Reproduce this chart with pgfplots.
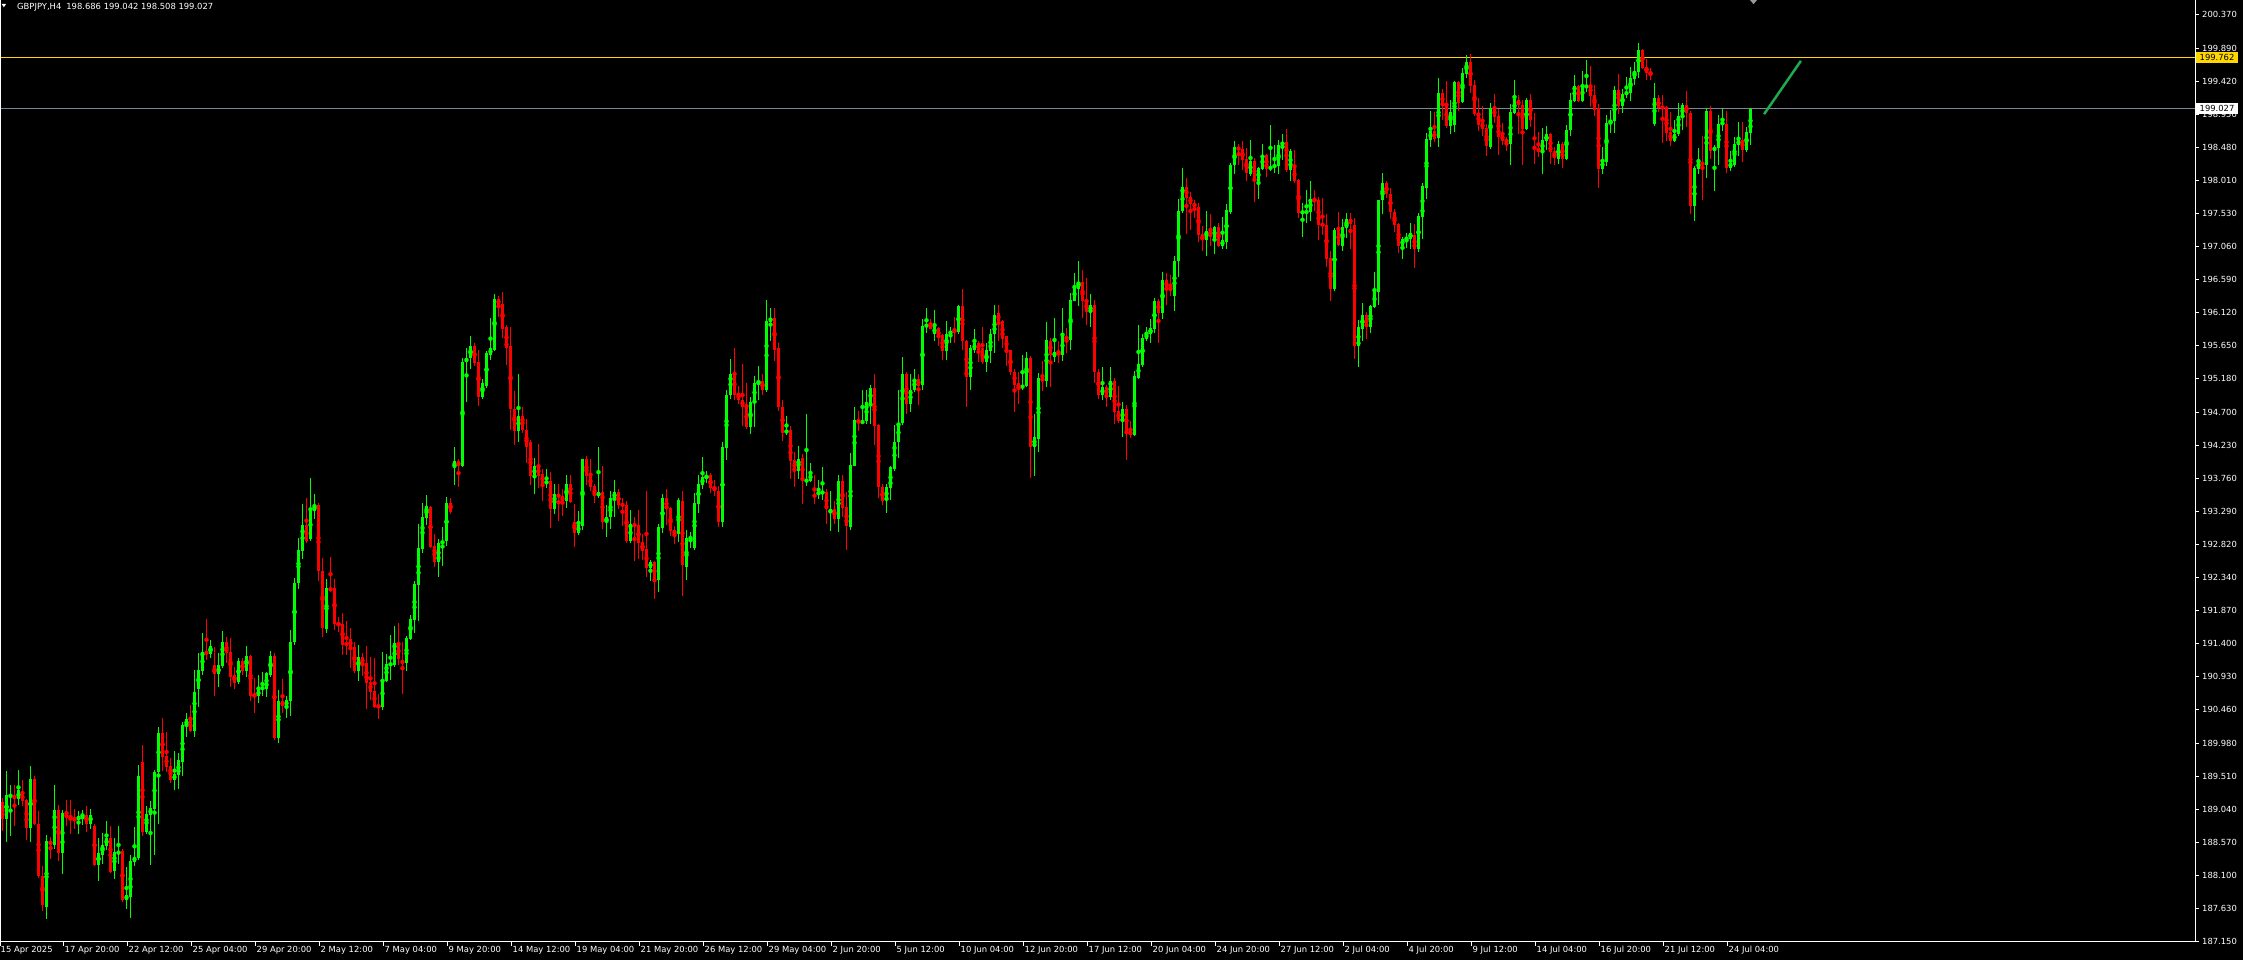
\documentclass[border=0pt]{standalone}
\usepackage{pgfplots}
\usepackage{pgfplotstable}
\pgfplotsset{compat=1.18}
\usepackage{fontspec}
\setmainfont{DejaVu Sans}
\definecolor{mtgreen}{RGB}{0,255,0}
\definecolor{mtred}{RGB}{255,0,0}
\definecolor{mtgold}{RGB}{255,215,0}
\definecolor{mtbid}{RGB}{119,136,153}
\definecolor{trendgreen}{RGB}{30,170,80}

\pgfplotstableread{
o h l c
189.14 189.20 188.73 188.90
188.90 189.58 188.57 189.24
189.22 189.38 188.66 189.24
189.24 189.38 188.80 189.18
189.18 189.60 189.10 189.31
189.27 189.45 189.09 189.15
189.17 189.18 188.60 188.77
188.77 189.65 188.57 189.47
189.47 189.51 188.82 188.83
188.83 189.01 188.06 188.08
188.09 188.23 187.59 187.68
187.65 188.67 187.48 188.59
188.59 188.64 188.33 188.53
188.53 189.38 188.47 189.03
189.03 189.10 188.30 188.42
188.42 189.03 188.11 188.98
188.98 189.17 188.80 188.91
188.91 189.17 188.69 188.90
188.91 189.04 188.75 188.88
188.88 189.01 188.69 188.94
188.94 189.03 188.82 188.96
188.96 189.08 188.72 188.83
188.83 189.04 188.76 188.96
188.80 188.83 188.23 188.25
188.25 188.63 188.02 188.42
188.39 188.70 188.26 188.53
188.52 188.87 188.46 188.63
188.63 188.80 188.13 188.14
188.16 188.63 188.05 188.43
188.40 188.80 188.26 188.44
188.44 188.47 187.72 187.75
187.75 188.22 187.61 187.81
187.79 188.38 187.49 188.30
188.29 188.79 188.23 188.36
188.35 189.67 188.32 189.51
189.71 189.96 188.66 188.72
188.72 189.08 188.69 188.97
188.96 189.15 188.25 189.05
189.04 189.60 188.38 189.57
189.57 190.21 188.83 190.13
190.13 190.34 189.59 189.79
189.80 190.14 189.57 189.64
189.65 189.77 189.41 189.45
189.45 189.87 189.31 189.54
189.53 189.84 189.33 189.74
189.71 190.28 189.51 190.24
190.23 190.41 190.07 190.32
190.31 190.52 190.14 190.15
190.15 191.02 190.07 190.71
190.75 191.26 190.49 191.02
191.01 191.55 190.95 191.28
191.29 191.75 191.16 191.25
191.25 191.45 191.19 191.36
191.09 191.35 190.66 190.96
190.96 191.26 190.78 191.09
191.08 191.58 191.05 191.42
191.42 191.49 191.12 191.26
191.28 191.48 190.78 190.93
190.95 191.06 190.76 190.84
190.85 191.19 190.82 191.15
191.15 191.19 190.95 191.01
191.01 191.36 190.93 191.23
191.23 191.24 190.58 190.66
190.68 190.91 190.41 190.65
190.65 190.96 190.56 190.74
190.75 190.99 190.66 190.78
190.76 190.99 190.64 190.98
190.95 191.29 190.92 191.22
191.22 191.26 190.02 190.05
190.05 190.74 189.98 190.58
190.58 190.89 190.41 190.51
190.51 190.66 190.34 190.59
190.58 191.60 190.37 191.43
191.42 192.34 191.38 192.27
192.27 192.90 192.18 192.73
192.72 193.39 192.61 193.09
193.09 193.47 192.84 192.86
192.89 193.76 192.87 193.30
193.29 193.54 193.18 193.37
193.37 193.41 192.29 192.44
192.44 192.62 191.50 191.62
191.61 192.32 191.55 192.19
192.19 192.64 192.14 192.16
192.20 192.32 191.59 191.68
191.69 191.78 191.57 191.67
191.68 191.84 191.24 191.38
191.41 191.72 191.24 191.38
191.47 191.62 191.05 191.34
191.35 191.42 190.98 191.01
191.01 191.38 190.87 191.21
191.21 191.27 190.94 191.11
191.13 191.37 190.47 190.84
190.85 191.21 190.60 190.71
190.73 191.19 190.48 190.50
190.51 190.68 190.33 190.50
190.50 191.28 190.46 190.88
190.87 191.25 190.85 191.11
191.10 191.52 190.88 191.11
191.10 191.65 191.07 191.41
191.41 191.69 191.10 191.18
191.15 191.42 190.68 191.13
191.13 191.51 191.01 191.48
191.47 191.81 191.45 191.75
191.74 192.29 191.55 192.25
192.24 193.10 191.72 192.76
192.75 193.41 192.69 193.21
193.19 193.52 193.09 193.36
193.35 193.36 192.76 192.78
192.79 192.96 192.49 192.56
192.56 192.89 192.35 192.83
192.82 193.06 192.51 192.87
192.87 193.49 192.79 193.40
193.40 193.47 193.25 193.28
193.92 194.21 193.66 194.00
194.00 194.03 193.63 193.93
193.93 195.48 193.92 195.42
195.41 195.61 194.84 195.48
195.48 195.79 195.31 195.65
195.65 195.68 195.36 195.40
195.42 195.58 194.79 194.91
194.91 195.18 194.89 195.11
195.07 195.57 195.05 195.54
195.52 196.05 195.45 195.61
195.59 196.38 195.57 196.32
196.32 196.36 196.06 196.23
196.25 196.41 195.76 195.89
195.91 195.95 195.38 195.62
195.64 195.92 194.44 194.75
194.75 195.00 194.23 194.43
194.43 195.25 194.27 194.65
194.65 194.78 194.40 194.44
194.45 194.61 193.97 194.20
194.27 194.30 193.66 193.79
193.78 194.04 193.53 193.93
193.93 194.24 193.62 193.79
193.82 193.89 193.43 193.68
193.68 193.89 193.62 193.72
193.72 193.85 193.05 193.32
193.32 193.68 193.25 193.53
193.53 193.68 193.15 193.49
193.50 193.60 193.22 193.43
193.43 193.81 193.33 193.67
193.67 193.81 193.40 193.42
193.13 193.39 192.78 192.98
192.98 193.29 192.95 193.09
193.08 194.04 193.02 194.03
194.03 194.08 193.66 193.79
193.80 194.04 193.58 193.63
193.65 193.68 193.40 193.50
193.50 194.21 193.48 193.56
193.56 193.94 193.03 193.13
193.13 193.38 192.92 193.21
193.21 193.58 193.03 193.48
193.47 193.73 193.20 193.56
193.56 193.61 193.32 193.37
193.39 193.48 193.08 193.37
193.37 193.44 192.83 192.86
192.86 193.31 192.84 193.10
193.10 193.20 192.58 193.08
193.09 193.31 192.61 192.83
192.85 192.96 192.59 192.72
192.75 193.58 192.35 192.48
192.48 192.59 192.29 192.56
192.56 192.58 192.03 192.31
192.31 193.10 192.14 193.06
193.05 193.53 192.98 193.47
193.47 193.60 193.09 193.32
193.33 193.35 192.93 193.00
193.02 193.08 192.82 192.96
192.96 193.48 192.85 193.45
193.43 193.57 192.08 192.52
192.50 193.02 192.31 192.90
192.89 192.99 192.76 192.92
192.76 193.55 192.73 193.40
193.39 193.81 193.27 193.67
193.66 194.06 193.60 193.77
193.76 193.86 193.69 193.80
193.80 193.84 193.55 193.62
193.64 193.74 193.50 193.57
193.57 193.65 193.06 193.13
193.13 194.27 193.06 194.20
194.19 195.01 194.02 194.95
194.94 195.46 194.89 195.25
195.25 195.62 194.87 194.95
194.97 195.08 194.82 194.87
194.88 195.39 194.50 194.77
194.78 195.11 194.46 194.49
194.49 194.91 194.39 194.85
194.84 195.21 194.49 195.12
195.12 195.36 194.87 195.14
195.14 195.24 194.94 195.02
195.02 196.30 194.99 196.00
195.99 196.18 195.72 196.05
196.05 196.18 195.43 195.59
195.61 195.68 194.72 194.77
194.77 194.87 194.29 194.41
194.41 194.65 194.37 194.44
194.44 194.50 193.75 194.00
194.02 194.13 193.63 193.86
193.86 194.22 193.75 194.04
194.04 194.11 193.39 193.72
193.72 194.67 193.65 193.73
193.72 193.97 193.70 193.83
193.53 193.81 193.39 193.49
193.53 193.73 193.46 193.56
193.55 193.92 193.45 193.56
193.56 193.60 193.10 193.32
193.26 193.57 193.00 193.32
193.32 193.43 193.10 193.18
193.18 193.81 192.99 193.72
193.72 193.81 193.20 193.33
193.35 193.56 192.73 193.08
193.06 194.12 193.02 193.95
193.94 194.78 193.93 194.59
194.59 194.72 194.43 194.54
194.54 195.02 194.53 194.58
194.57 195.02 194.53 194.84
194.82 195.09 194.53 195.05
195.05 195.24 194.23 194.51
194.52 194.53 193.47 193.63
193.63 193.67 193.37 193.43
193.45 193.67 193.26 193.63
193.62 193.93 193.45 193.92
193.89 194.52 193.86 194.28
194.27 195.01 194.04 194.55
194.54 195.49 194.52 195.25
195.25 195.27 194.68 194.81
194.81 195.25 194.71 195.02
195.01 195.31 194.99 195.18
195.17 195.25 194.80 195.08
195.09 196.03 195.02 195.93
195.92 196.19 195.83 195.95
195.96 196.03 195.88 195.89
195.82 196.16 195.72 195.91
195.90 195.92 195.65 195.76
195.80 195.82 195.45 195.57
195.57 196.00 195.44 195.82
195.81 195.91 195.68 195.86
195.86 196.06 195.68 195.85
195.85 196.23 195.82 196.21
196.21 196.45 195.58 195.71
195.71 195.73 194.77 195.20
195.20 195.66 195.01 195.61
195.59 195.88 195.55 195.68
195.68 195.71 195.41 195.59
195.62 195.92 195.39 195.41
195.41 195.68 195.28 195.58
195.57 195.88 195.40 195.82
195.81 196.23 195.54 196.09
196.11 196.23 195.71 196.00
196.00 196.02 195.61 195.75
195.78 195.79 195.36 195.57
195.58 195.59 195.23 195.27
195.28 195.31 194.71 195.09
195.11 195.28 194.81 195.04
195.04 195.52 195.02 195.09
195.08 195.56 195.06 195.48
195.48 195.50 193.76 194.21
194.21 194.68 193.79 194.35
194.32 195.26 194.13 195.19
195.19 195.43 195.00 195.14
195.14 195.98 195.06 195.73
195.72 195.76 195.06 195.52
195.49 196.05 195.41 195.56
195.56 195.71 195.40 195.51
195.51 196.18 195.43 195.79
195.79 195.90 195.54 195.73
195.73 196.40 195.58 196.30
196.29 196.69 196.28 196.48
196.46 196.85 196.22 196.56
196.56 196.73 196.05 196.28
196.29 196.62 195.95 196.13
196.13 196.38 195.91 196.23
196.23 196.30 195.12 195.28
195.28 195.31 194.89 194.94
194.94 195.35 194.88 195.06
195.06 195.09 194.77 194.92
194.92 195.34 194.87 195.14
195.14 195.19 194.53 194.71
194.72 195.08 194.54 194.58
194.58 194.84 194.34 194.74
194.75 194.81 194.02 194.41
194.43 194.57 194.33 194.37
194.37 195.29 194.36 195.21
195.19 195.95 195.17 195.39
195.38 195.81 195.35 195.76
195.75 195.92 195.72 195.82
195.81 196.03 195.68 195.90
195.89 196.33 195.83 196.28
196.29 196.31 195.69 196.11
196.11 196.70 196.03 196.58
196.58 196.69 196.23 196.48
196.50 196.65 196.36 196.43
196.36 196.93 196.15 196.86
196.85 197.74 196.63 197.57
197.57 198.18 197.54 197.91
197.91 198.04 197.24 197.76
197.77 197.84 197.30 197.67
197.69 197.72 197.47 197.62
197.63 197.69 197.13 197.23
197.24 197.36 197.00 197.15
197.16 197.57 196.93 197.29
197.29 197.53 197.07 197.20
197.17 197.36 196.96 197.34
197.34 197.40 197.05 197.07
197.07 197.49 197.03 197.15
197.12 197.67 197.03 197.59
197.56 198.26 197.53 198.23
198.23 198.57 198.10 198.48
198.48 198.53 198.23 198.44
198.46 198.57 198.16 198.30
198.31 198.47 198.00 198.11
198.10 198.58 198.07 198.28
198.28 198.33 197.70 197.99
197.99 198.20 197.74 198.18
198.17 198.53 198.16 198.37
198.37 198.38 198.05 198.17
198.17 198.80 198.14 198.20
198.19 198.51 198.11 198.23
198.21 198.58 198.09 198.51
198.50 198.67 198.30 198.56
198.56 198.74 198.13 198.16
198.16 198.46 198.00 198.43
198.18 198.44 197.97 198.00
198.01 198.02 197.47 197.54
197.54 197.69 197.20 197.56
197.55 197.87 197.40 197.56
197.56 198.00 197.43 197.74
197.74 197.87 197.57 197.72
197.73 197.77 197.16 197.37
197.39 197.76 197.22 197.36
197.37 197.52 196.77 196.89
196.90 197.00 196.28 196.45
196.45 197.33 196.43 197.30
197.30 197.56 197.07 197.09
197.07 197.46 197.00 197.34
197.33 197.54 197.19 197.46
197.46 197.54 197.03 197.39
197.37 197.47 195.46 195.64
195.64 196.02 195.35 195.91
195.89 196.26 195.72 196.09
196.08 196.13 195.75 195.92
195.92 196.23 195.83 196.22
196.20 196.70 196.18 196.43
196.42 197.73 196.23 197.72
197.72 198.11 197.52 197.97
197.97 197.99 197.76 197.81
197.81 197.90 197.46 197.56
197.56 197.60 197.27 197.37
197.39 197.40 196.97 197.07
197.07 197.20 196.89 197.17
197.16 197.26 197.04 197.19
197.17 197.40 197.03 197.26
197.23 197.39 196.76 197.03
197.03 197.54 196.99 197.50
197.49 197.97 197.17 197.93
197.90 198.68 197.74 198.60
198.58 199.00 198.48 198.71
198.71 198.98 198.55 198.60
198.61 199.47 198.48 199.25
199.25 199.31 198.87 199.08
199.10 199.42 198.75 198.78
198.78 199.15 198.67 198.98
198.80 199.42 198.70 199.41
199.41 199.42 199.00 199.11
199.12 199.61 199.11 199.54
199.52 199.79 199.47 199.69
199.69 199.81 199.25 199.35
199.37 199.44 198.93 198.95
198.97 199.18 198.71 198.80
198.83 199.07 198.64 198.74
198.75 198.81 198.36 198.50
198.48 199.11 198.46 199.04
199.04 199.24 198.83 198.91
198.93 199.03 198.37 198.63
198.66 198.83 198.51 198.57
198.60 198.63 198.43 198.54
198.53 199.10 198.23 198.98
198.97 199.44 198.95 199.17
199.15 199.23 198.67 199.08
199.08 199.15 198.23 198.74
198.74 199.18 198.72 199.15
199.15 199.24 198.77 198.87
198.48 198.97 198.24 198.46
198.47 198.70 198.34 198.41
198.41 198.75 198.09 198.58
198.57 198.78 198.44 198.66
198.66 198.68 198.24 198.41
198.43 198.48 198.23 198.33
198.31 198.57 198.24 198.53
198.53 198.55 198.18 198.31
198.31 198.80 198.29 198.73
198.73 199.25 198.64 199.15
199.14 199.51 199.12 199.35
199.35 199.37 199.12 199.14
199.14 199.57 199.13 199.37
199.34 199.72 199.27 199.35
199.37 199.64 199.05 199.21
199.23 199.37 198.93 199.01
199.04 199.10 197.90 198.17
198.17 198.48 198.09 198.29
198.27 198.94 198.21 198.83
198.81 199.01 198.68 198.85
198.85 199.35 198.68 199.30
199.30 199.52 198.95 199.07
199.07 199.31 198.97 199.24
199.23 199.48 199.18 199.27
199.25 199.62 199.14 199.47
199.45 199.70 199.37 199.57
199.55 199.97 199.47 199.87
199.87 199.88 199.60 199.61
199.62 199.74 199.44 199.54
199.55 199.61 199.44 199.52
198.81 199.40 198.78 199.18
199.18 199.23 198.98 199.04
199.05 199.23 198.54 199.04
199.05 199.07 198.57 198.68
198.70 198.98 198.50 198.57
198.57 198.86 198.56 198.67
198.66 199.11 198.64 198.93
198.91 199.11 198.73 199.08
199.08 199.28 198.77 198.97
198.97 199.00 197.52 197.64
197.64 198.21 197.42 198.18
198.17 198.47 198.09 198.27
198.26 198.64 197.73 198.23
198.23 199.04 198.04 199.00
199.00 199.07 198.31 198.43
198.43 198.51 197.86 198.48
198.47 198.94 198.23 198.81
198.80 199.03 198.71 198.84
198.81 199.00 198.11 198.18
198.18 198.43 198.14 198.26
198.23 198.63 198.20 198.53
198.51 198.84 198.36 198.58
198.58 198.84 198.27 198.44
198.44 198.76 198.41 198.70
198.686 199.042 198.508 199.027
}\bars

\begin{document}
\begin{tikzpicture}
\fill[black] (0pt,-18.3pt) rectangle (2243pt,941.7pt);
\begin{axis}[
  at={(0pt,0pt)}, anchor=south west,
  scale only axis, width=2195pt, height=941.7pt,
  xmin=-0.625, xmax=548.125, ymin=187.15, ymax=200.578,
  axis line style={draw=none},
  tick align=outside, major tick length=4pt,
  xtick pos=left, ytick pos=right, yticklabel pos=right,
  tick style={white, line width=1pt},
  ticklabel style={font=\fontsize{8.4}{10}\selectfont, text=white},
  xticklabel style={anchor=north west, inner sep=0pt, xshift=0.5pt},
  yticklabel style={anchor=west, inner sep=0pt, xshift=3pt},
  xtick={-0.625,15.375,31.375,47.375,63.375,79.375,95.375,111.375,127.375,143.375,159.375,175.375,191.375,207.375,223.375,239.375,255.375,271.375,287.375,303.375,319.375,335.375,351.375,367.375,383.375,399.375,415.375,431.375},
  xticklabels={15 Apr 2025,17 Apr 20:00,22 Apr 12:00,25 Apr 04:00,29 Apr 20:00,2 May 12:00,7 May 04:00,9 May 20:00,14 May 12:00,19 May 04:00,21 May 20:00,26 May 12:00,29 May 04:00,2 Jun 20:00,5 Jun 12:00,10 Jun 04:00,12 Jun 20:00,17 Jun 12:00,20 Jun 04:00,24 Jun 20:00,27 Jun 12:00,2 Jul 04:00,4 Jul 20:00,9 Jul 12:00,14 Jul 04:00,16 Jul 20:00,21 Jul 12:00,24 Jul 04:00},
  ytick={187.15,187.63,188.10,188.57,189.04,189.51,189.98,190.46,190.93,191.40,191.87,192.34,192.82,193.29,193.76,194.23,194.70,195.18,195.65,196.12,196.59,197.06,197.53,198.01,198.48,198.95,199.42,199.89,200.37},
  yticklabels={187.150,187.630,188.100,188.570,189.040,189.510,189.980,190.460,190.930,191.400,191.870,192.340,192.820,193.290,193.760,194.230,194.700,195.180,195.650,196.120,196.590,197.060,197.530,198.010,198.480,198.950,199.420,199.890,200.370},
]
\addplot[mtgold, line width=1pt] coordinates {(-0.625,199.762) (548.125,199.762)};
\addplot[mtbid, line width=1pt] coordinates {(-0.625,199.027) (548.125,199.027)};
% up candles: wicks and bodies
\addplot[only marks, mark=none, color=mtgreen,
  restrict expr to domain={\thisrow{c}-\thisrow{o}}{0:100},
  error bars/.cd, y dir=both, y explicit, error mark=none,
  error bar style={mtgreen, line width=1pt, line cap=butt}]
  table[x expr=\coordindex, y expr={0.5*(\thisrow{h}+\thisrow{l})}, y error expr={0.5*(\thisrow{h}-\thisrow{l})}] {\bars};
\addplot[only marks, mark=none, color=mtgreen,
  restrict expr to domain={\thisrow{c}-\thisrow{o}}{0:100},
  error bars/.cd, y dir=both, y explicit, error mark=none,
  error bar style={mtgreen, line width=3pt, line cap=butt}]
  table[x expr=\coordindex, y expr={0.5*(\thisrow{o}+\thisrow{c})}, y error expr={0.5*(\thisrow{c}-\thisrow{o})}] {\bars};
% down candles
\addplot[only marks, mark=none, color=mtred,
  restrict expr to domain={\thisrow{c}-\thisrow{o}}{-100:-0.0001},
  error bars/.cd, y dir=both, y explicit, error mark=none,
  error bar style={mtred, line width=1pt, line cap=butt}]
  table[x expr=\coordindex, y expr={0.5*(\thisrow{h}+\thisrow{l})}, y error expr={0.5*(\thisrow{h}-\thisrow{l})}] {\bars};
\addplot[only marks, mark=none, color=mtred,
  restrict expr to domain={\thisrow{c}-\thisrow{o}}{-100:-0.0001},
  error bars/.cd, y dir=both, y explicit, error mark=none,
  error bar style={mtred, line width=3pt, line cap=butt}]
  table[x expr=\coordindex, y expr={0.5*(\thisrow{o}+\thisrow{c})}, y error expr={0.5*(\thisrow{o}-\thisrow{c})}] {\bars};
% trend line object
\addplot[trendgreen, line width=2.5pt] coordinates {(440.4,198.95) (449.6,199.71)};
\coordinate (ygold) at (axis cs:548.125,199.762);
\coordinate (ybid) at (axis cs:548.125,199.027);
\end{axis}
% frame lines
\draw[white, line width=1pt] (0.5pt,941.7pt) -- (0.5pt,0pt) -- (2195pt,0pt) -- (2195pt,941.7pt);
% price labels
\node[fill=mtgold, text=black, anchor=west, inner xsep=3.5pt, inner ysep=0pt, minimum height=11pt, font=\fontsize{8.4}{10}\selectfont] at ([xshift=1pt]ygold) {199.762};
\node[fill=white, text=black, anchor=west, inner xsep=3.5pt, inner ysep=0pt, minimum height=11pt, font=\fontsize{8.4}{10}\selectfont] at ([xshift=1pt]ybid) {199.027};
% header
\fill[white] (1.7pt,937.7pt) -- (6pt,937.7pt) -- (3.85pt,934.4pt) -- cycle;
\node[anchor=base west, inner sep=0pt, text=white, font=\fontsize{8.4}{10}\selectfont] at (17pt,931.7pt) {GBPJPY,H4\hspace{5pt}198.686 199.042 198.508 199.027};
% chart shift marker
\fill[gray!80] (1750pt,941.7pt) -- (1757pt,941.7pt) -- (1753.5pt,937.5pt) -- cycle;
\pgfresetboundingbox
\useasboundingbox (0pt,-18.3pt) rectangle (2243pt,941.7pt);
\end{tikzpicture}
\end{document}
